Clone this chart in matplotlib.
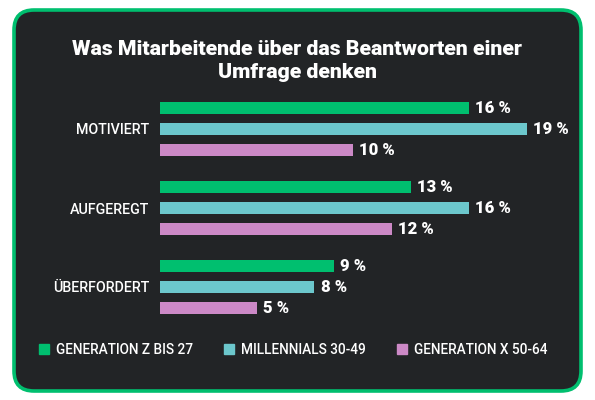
import numpy as np
import matplotlib.pyplot as plt
from matplotlib.patches import FancyBboxPatch
from matplotlib.lines import Line2D

plt.rcParams["font.family"] = ["Roboto", "DejaVu Sans"]

categories = ["MOTIVIERT", "AUFGEREGT", "ÜBERFORDERT"]
series = ["GENERATION Z BIS 27", "MILLENNIALS 30-49", "GENERATION X 50-64"]
gen_z = [16, 13, 9]
millennials = [19, 16, 8]
gen_x = [10, 12, 5]
colors = ["#00BF6F", "#6CC7CC", "#CC89C6"]

title = "Was Mitarbeitende über das Beantworten einer\nUmfrage denken"

W, H = 595, 400
fig = plt.figure(figsize=(W / 100, H / 100), dpi=100)
fig.patch.set_facecolor("white")

# background card, in pixel units
bg = fig.add_axes([0, 0, 1, 1])
bg.set_xlim(0, W)
bg.set_ylim(H, 0)
bg.axis("off")
card = FancyBboxPatch(
    (14, 10), 567, 381,
    boxstyle="round,pad=0,rounding_size=20",
    fc="#222426", ec="#00BF6F", lw=2.6,
)
bg.add_patch(card)
bg.text(297, 61, title, ha="center", va="center", color="white",
        fontsize=15.3, fontweight="heavy", linespacing=1.27)

# bars
top, bottom = 95, 320
ax = fig.add_axes([160 / W, (H - bottom) / H, 400 / W, (bottom - top) / H])
ax.patch.set_alpha(0)
px_per_pct = 19.3
ax.set_xlim(0, 400 / px_per_pct)
ax.set_ylim(bottom, top)

group_gap, bar_gap, bar_h = 79, 21, 12
centers = 129 + group_gap * np.arange(len(categories))
for i, (vals, c) in enumerate(zip([gen_z, millennials, gen_x], colors)):
    ys = centers + (i - 1) * bar_gap
    ax.barh(ys, vals, height=bar_h, color=c, edgecolor="none")
    for y, v in zip(ys, vals):
        ax.text(v + 0.33, y, f"{v} %", va="center", ha="left", color="white",
                fontsize=12, fontweight="heavy")

ax.set_yticks(centers, categories)
ax.tick_params(axis="y", length=0, pad=8, labelcolor="white", labelsize=10.3)
for t in ax.get_yticklabels():
    t.set_fontweight("medium")
ax.set_xticks([])
for s in ax.spines.values():
    s.set_visible(False)

handles = [Line2D([], [], marker="s", ls="", ms=7, color=c) for c in colors]
leg = fig.legend(handles, series, loc="center", mode="expand",
                 bbox_to_anchor=(26 / W, (H - 360) / H, 534 / W, 20 / H),
                 ncol=3, frameon=False, handlelength=0.8,
                 handletextpad=0.5, prop={"weight": "medium", "size": 9.8})
for t in leg.get_texts():
    t.set_color("white")

fig.savefig("out.png", dpi=100)
